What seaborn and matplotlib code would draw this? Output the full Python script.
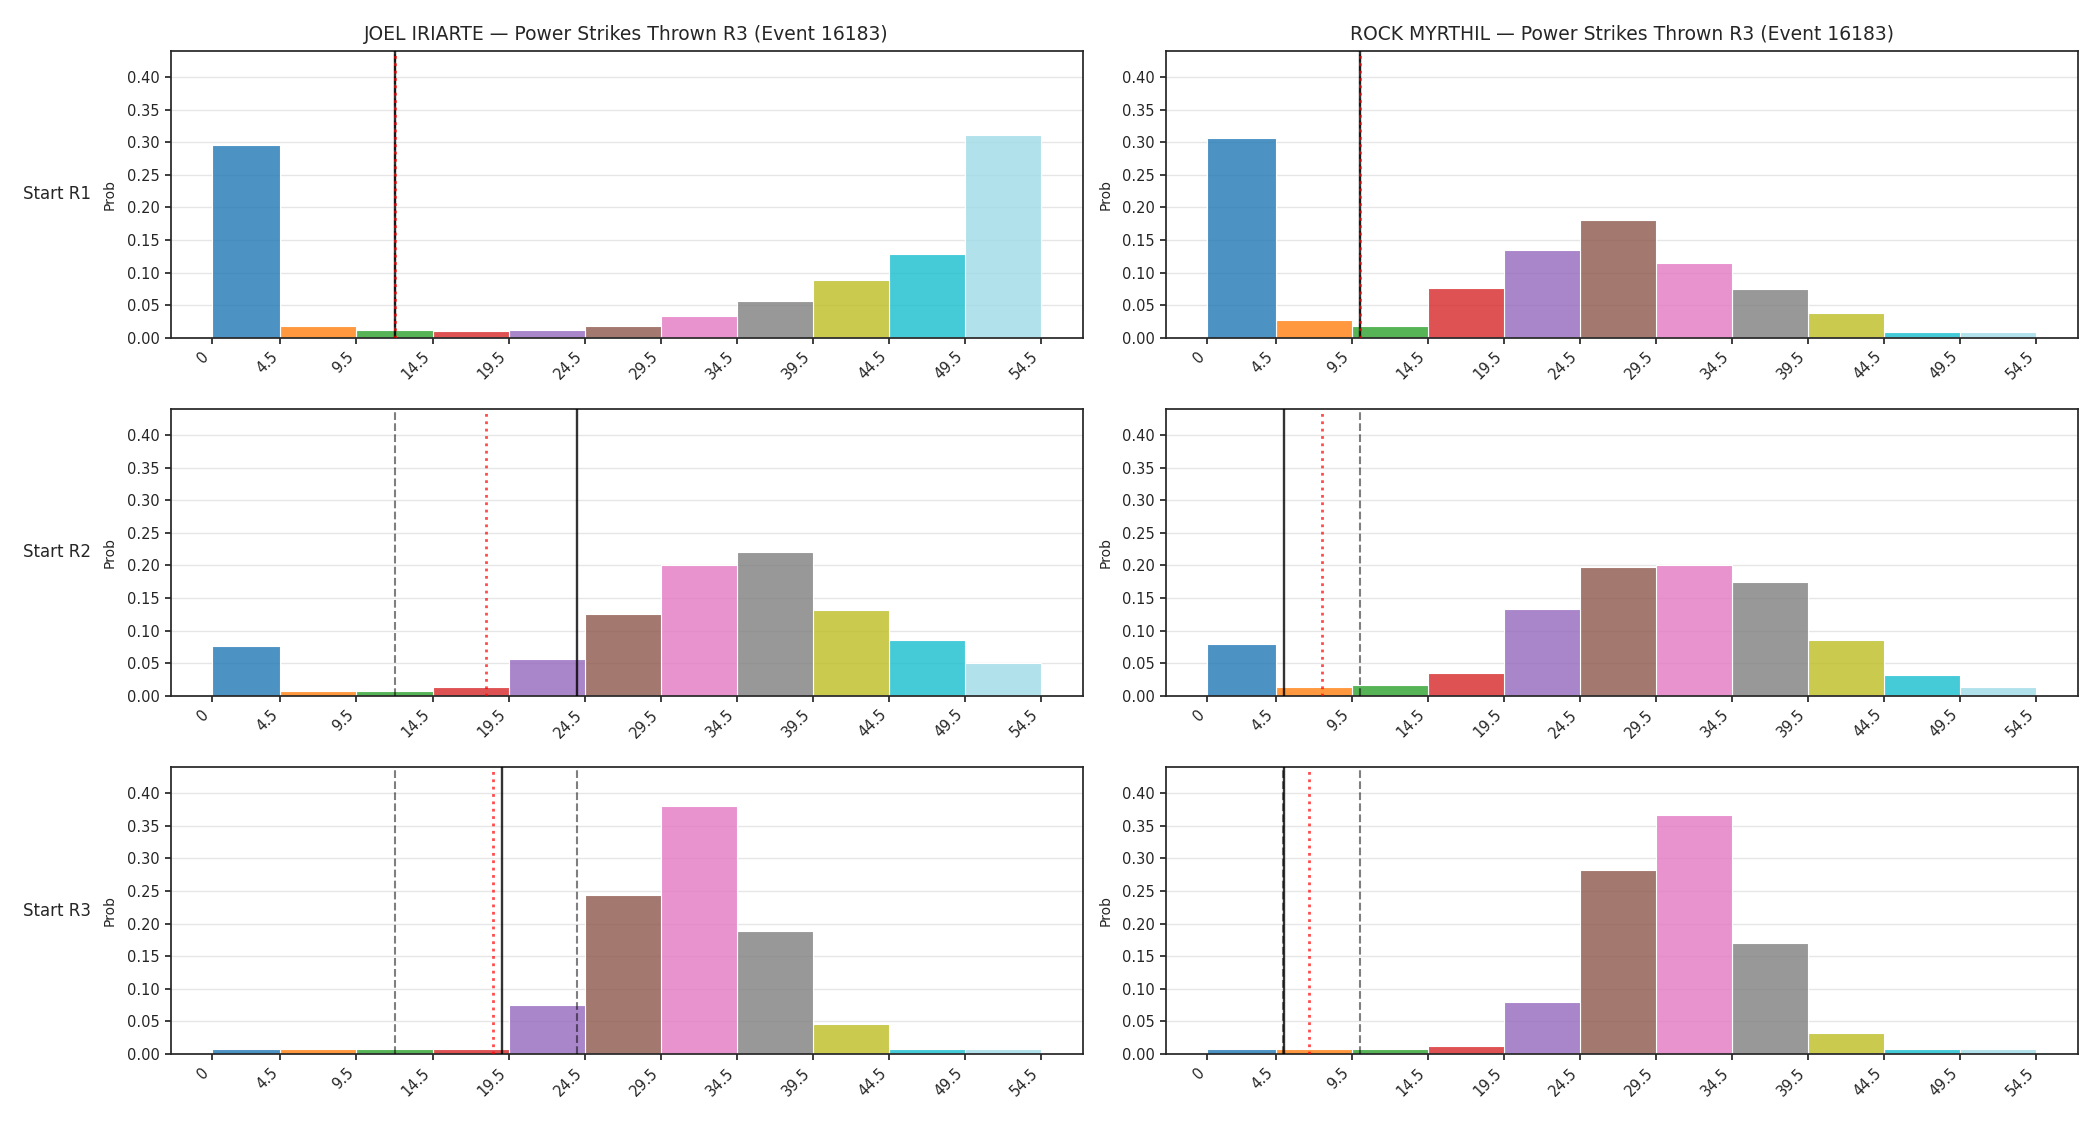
import numpy as np
import pandas as pd
import matplotlib
matplotlib.use("Agg")
import matplotlib.pyplot as plt
import seaborn as sns

# ---------------- data ----------------
fighters = ["JOEL IRIARTE", "ROCK MYRTHIL"]
title_suffix = " \u2014 Power Strikes Thrown R3 (Event 16183)"
row_labels = ["Start R1", "Start R2", "Start R3"]

bin_edges = [0, 4.5, 9.5, 14.5, 19.5, 24.5, 29.5, 34.5, 39.5, 44.5, 49.5, 54.5]
tick_labels = ["0", "4.5", "9.5", "14.5", "19.5", "24.5", "29.5", "34.5",
               "39.5", "44.5", "49.5", "54.5"]

iriarte_r1 = [0.296, 0.018, 0.012, 0.010, 0.012, 0.018, 0.033, 0.056, 0.088, 0.129, 0.311]
iriarte_r2 = [0.077, 0.008, 0.008, 0.013, 0.056, 0.125, 0.201, 0.221, 0.131, 0.086, 0.051]
iriarte_r3 = [0.0076, 0.0076, 0.0076, 0.0076, 0.075, 0.244, 0.380, 0.189, 0.046, 0.0076, 0.0076]

myrthil_r1 = [0.306, 0.028, 0.018, 0.076, 0.135, 0.180, 0.114, 0.075, 0.038, 0.0086, 0.0086]
myrthil_r2 = [0.080, 0.013, 0.016, 0.035, 0.134, 0.198, 0.201, 0.175, 0.085, 0.032, 0.013]
myrthil_r3 = [0.0076, 0.0076, 0.0076, 0.012, 0.079, 0.282, 0.366, 0.170, 0.032, 0.0076, 0.0076]

# reference lines per row: previous marks (gray dashed), current (black), projection (red dotted)
iriarte_dashed = [[12], [12], [12, 24]]
iriarte_black = [12, 24, 19.07]
iriarte_red = [12, 18.0, 18.45]

myrthil_dashed = [[10], [10], [10, 5]]
myrthil_black = [10, 5.02, 5.02]
myrthil_red = [10, 7.53, 6.7]

bar_colors = ["#1f77b4", "#ff7f0e", "#2ca02c", "#d62728", "#9467bd", "#8c564b",
              "#e377c2", "#7f7f7f", "#bcbd22", "#17becf", "#9edae5"]

# ---------------- style ----------------
sns.set_style("ticks")
plt.rcParams["font.family"] = ["DejaVu Sans"]
plt.rcParams["axes.edgecolor"] = ".15"
plt.rcParams["axes.linewidth"] = 1.25

fig, axes = plt.subplots(3, 2, figsize=(21, 11.25), dpi=100)
fig.subplots_adjust(left=0.0812, right=0.9895, top=0.9548, bottom=0.0631,
                    wspace=0.0915, hspace=0.248)

columns = [
    (fighters[0], [iriarte_r1, iriarte_r2, iriarte_r3], iriarte_dashed, iriarte_black, iriarte_red),
    (fighters[1], [myrthil_r1, myrthil_r2, myrthil_r3], myrthil_dashed, myrthil_black, myrthil_red),
]

edges = np.array(bin_edges)
centers = (edges[:-1] + edges[1:]) / 2
bin_names = [f"b{i}" for i in range(len(centers))]
palette = dict(zip(bin_names, bar_colors))

for c, (name, rows, dashed, black, red) in enumerate(columns):
    for r in range(3):
        ax = axes[r, c]
        df = pd.DataFrame({"x": centers, "w": rows[r], "bin": bin_names})
        sns.histplot(data=df, x="x", weights="w", hue="bin", hue_order=bin_names,
                     palette=palette, bins=bin_edges, stat="count", multiple="layer",
                     alpha=0.8, edgecolor="white", linewidth=0.8, legend=False, ax=ax)
        ax.set_axisbelow(True)
        ax.yaxis.grid(True, color="0.9", linewidth=1.0)
        ax.xaxis.grid(False)
        for d in dashed[r]:
            ax.axvline(d, color="black", alpha=0.5, linestyle="--", linewidth=1.5, zorder=3)
        ax.axvline(black[r], color="black", alpha=0.8, linestyle="-", linewidth=1.7, zorder=4)
        ax.axvline(red[r], color="red", alpha=0.7, linestyle=":", linewidth=2.0, zorder=5)

        ax.set_ylim(0, 0.44)
        ax.set_yticks(np.arange(0, 0.41, 0.05))
        ax.set_yticklabels([f"{v:.2f}" for v in np.arange(0, 0.41, 0.05)])
        ax.set_xticks(bin_edges)
        ax.set_xticklabels(tick_labels, rotation=45, ha="right")
        ax.tick_params(axis="both", labelsize=10.5, length=4.5, width=1.25, color=".15")
        ax.set_xlabel("")
        ax.set_ylabel("Prob", fontsize=10, labelpad=7)
        for s in ax.spines.values():
            s.set_visible(True)
        if r == 0:
            ax.set_title(name + title_suffix, fontsize=13.5, pad=8)
        if c == 0:
            pos = ax.get_position()
            fig.text(0.011, (pos.y0 + pos.y1) / 2, row_labels[r], fontsize=12,
                     ha="left", va="center")

fig.savefig("out.png", dpi=100)
